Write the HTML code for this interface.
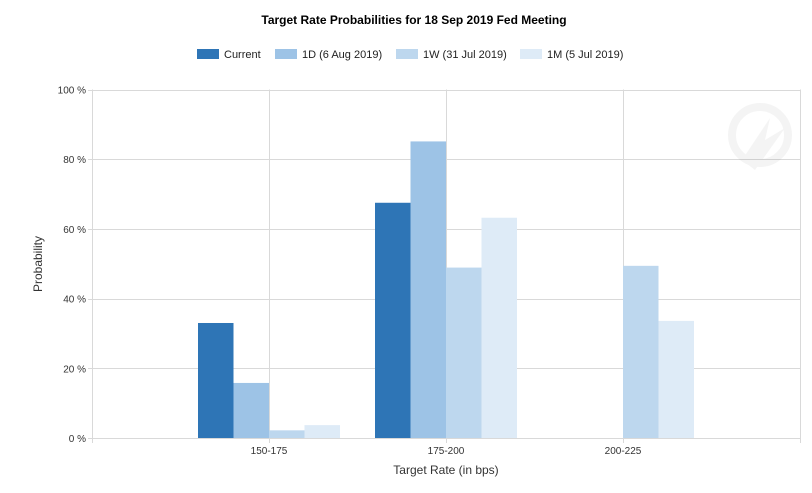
<!DOCTYPE html>
<html><head><meta charset="utf-8"><style>
body{margin:0;background:#fff;font-family:"Liberation Sans",Arial,sans-serif}
svg text{font-family:"Liberation Sans",Arial,sans-serif}
</style></head><body>
<svg id="chart" width="812" height="488" xmlns="http://www.w3.org/2000/svg">
<text x="414" y="24" text-anchor="middle" font-size="12" font-weight="bold" fill="#000">Target Rate Probabilities for 18 Sep 2019 Fed Meeting</text>
<g id="legend"></g>
<g id="grid"></g>
<g id="wm" opacity="0.06">
<circle cx="760" cy="135" r="28" fill="none" stroke="#555" stroke-width="8"/>
<path d="M742 160 L770 118 L765 140 L785 128 L755 170 Z" fill="#555"/>
</g>
<g id="bars"></g>
<g id="axes"></g>
<text x="446" y="474" text-anchor="middle" font-size="12" fill="#333">Target Rate (in bps)</text>
<text transform="translate(42,264) rotate(-90)" text-anchor="middle" font-size="12" fill="#333">Probability</text>
</svg>
<script>
const categories = ["150-175","175-200","200-225"];
const seriesNames = ["Current","1D (6 Aug 2019)","1W (31 Jul 2019)","1M (5 Jul 2019)"];
const currentVals = [33.0,67.5,0];
const d1Vals = [15.8,85.1,0];
const w1Vals = [2.2,48.9,49.4];
const m1Vals = [3.7,63.2,33.6];
const yTicks = [0,20,40,60,80,100];

const NS="http://www.w3.org/2000/svg";
const colors=["#2e75b6","#9dc3e6","#bdd7ee","#deebf7"];
const series=[currentVals,d1Vals,w1Vals,m1Vals];
const L=92,R=800,T=89.5,B=438;
const cw=(R-L)/4;
const y=v=>B-(v/100)*(B-T);
const xc=i=>L+cw*(i+1);
function mk(tag,attrs,parent){const e=document.createElementNS(NS,tag);for(const k in attrs)e.setAttribute(k,attrs[k]);parent.appendChild(e);return e;}
const grid=document.getElementById('grid'),bars=document.getElementById('bars'),axes=document.getElementById('axes'),legend=document.getElementById('legend');
yTicks.forEach(t=>{
  const l=mk('line',{x1:L-4,x2:R,y1:Math.round(y(t))+0.5,y2:Math.round(y(t))+0.5,stroke:'#d9d9d9'},grid);
  
  
  const tx=mk('text',{x:L-6,y:y(t)+4,'text-anchor':'end','font-size':'10',fill:'#333'},axes);
  tx.textContent=t+' %';
  
  
});
for(let i=0;i<=4;i++){
  const x=Math.round(L+cw*i)+0.5;
  const l=mk('line',{x1:x,x2:x,y1:T,y2:B+5,stroke:'#d9d9d9'},grid);
  
  
}
const bw=35.5;
categories.forEach((c,i)=>{
  const tx=mk('text',{x:xc(i),y:B+16,'text-anchor':'middle','font-size':'10',fill:'#333'},axes);
  tx.textContent=c;
  
  
  series.forEach((s,j)=>{
    const v=s[i]; if(!v) return;
    const r=mk('rect',{x:xc(i)-2*bw+j*bw,y:y(v),width:bw,height:B-y(v),fill:colors[j]},bars);
    
    
  });
});
const lx=[197,275,396,520];
seriesNames.forEach((n,j)=>{
  const r=mk('rect',{x:lx[j],y:49,width:22,height:10,fill:colors[j]},legend);
  
  
  const t=mk('text',{x:lx[j]+27,y:58,'font-size':'11',fill:'#222'},legend);
  t.textContent=n;
  
  
});
</script>
</body></html>
